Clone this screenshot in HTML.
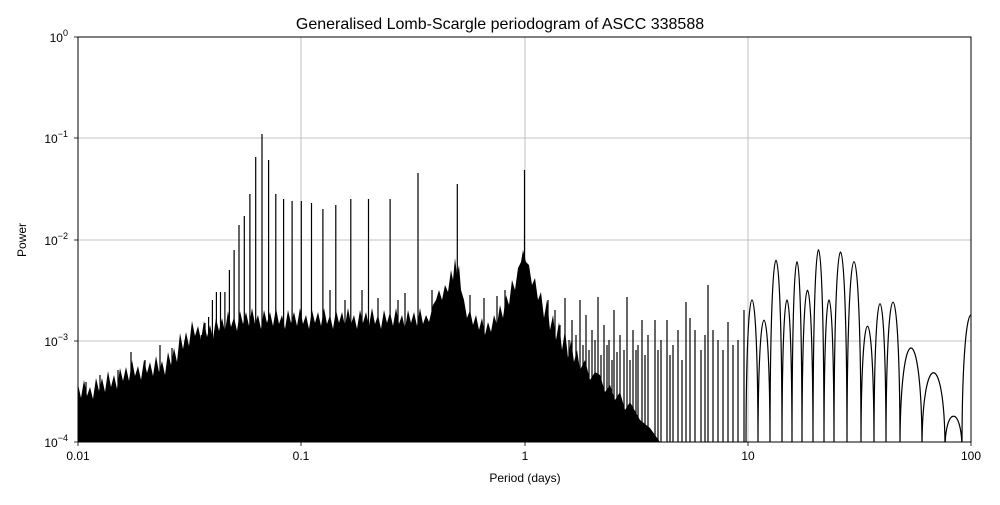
<!DOCTYPE html>
<html><head><meta charset="utf-8"><style>
body{margin:0;background:#fff;}
svg text{font-family:"Liberation Sans","DejaVu Sans",sans-serif;fill:#000;}
</style></head><body>
<svg width="1000" height="500" xmlns="http://www.w3.org/2000/svg">
<rect width="1000" height="500" fill="#fff"/>
<defs>
<clipPath id="c"><rect x="78" y="37" width="893" height="405"/></clipPath>
</defs>
<g stroke="#b0b0b0" stroke-width="0.8">
<line x1="301" y1="37" x2="301" y2="442"/><line x1="525" y1="37" x2="525" y2="442"/><line x1="748" y1="37" x2="748" y2="442"/>
<line x1="78" y1="138" x2="971" y2="138"/><line x1="78" y1="240" x2="971" y2="240"/><line x1="78" y1="341" x2="971" y2="341"/>
</g>
<g clip-path="url(#c)">
<polygon fill="#000" points="78,442 78,384 81,398 84,380 87,396 90,387 93,399 96,378 99,391 102,378 105,392 108,371 111,387 114,375 117,389 120,368 123,381 126,367 129,381 132,360 135,376 138,366 141,380 144,360 147,373 150,362 153,376 156,356 159,372 162,361 165,375 168,352 171,365 174,348 177,362 180,333 183,349 186,332 189,346 192,321 195,336 198,326 201,340 204,321 207,337 210,325 213,339 216,318 219,331 222,318 225,332 228,311 231,327 234,317 237,331 240,311 243,324 246,312 249,326 252,308 255,324 258,315 261,329 264,310 267,323 270,312 273,326 276,308 279,324 282,315 285,329 288,310 291,323 294,312 297,326 300,308 303,324 306,315 309,329 312,310 315,323 318,312 321,326 324,308 327,324 330,315 333,329 336,310 339,323 342,312 345,326 348,308 351,324 354,315 357,329 360,310 363,323 366,312 369,326 372,308 375,324 378,315 381,329 384,310 387,323 390,312 393,326 396,308 399,324 402,315 405,329 408,310 411,323 414,312 417,326 420,308 423,324 426,315 429,322 433,305 436,300 439,290 442,300 445,285 448,292 451,270 453,280 455,258 457,275 459,265 461,290 464,300 467,318 470,310 473,325 476,315 479,330 482,318 485,335 488,322 491,332 494,315 497,325 500,305 503,318 506,295 509,305 512,280 515,290 518,268 521,262 523,250 526,262 529,265 532,285 535,278 538,300 541,292 544,318 547,300 550,330 553,315 556,340 559,322 562,350 565,330 568,358 571,340 574,362 577,350 580,370 585,360 590,380 595,372 600,375 605,392 610,385 615,400 620,392 625,410 630,402 640,420 650,428 660,442"/>
<g stroke="#000" stroke-width="1.2" fill="none">
<line x1="524.5" y1="442" x2="524.5" y2="170"/>
<line x1="457.3" y1="442" x2="457.3" y2="184"/>
<line x1="418" y1="442" x2="418" y2="173"/>
<line x1="390.1" y1="442" x2="390.1" y2="199"/>
<line x1="368.5" y1="442" x2="368.5" y2="199"/>
<line x1="350.8" y1="442" x2="350.8" y2="199"/>
<line x1="335.8" y1="442" x2="335.8" y2="205"/>
<line x1="322.9" y1="442" x2="322.9" y2="209"/>
<line x1="311.5" y1="442" x2="311.5" y2="203"/>
<line x1="301.3" y1="442" x2="301.3" y2="201"/>
<line x1="292.1" y1="442" x2="292.1" y2="201"/>
<line x1="283.6" y1="442" x2="283.6" y2="199"/>
<line x1="275.8" y1="442" x2="275.8" y2="194"/>
<line x1="268.6" y1="442" x2="268.6" y2="160"/>
<line x1="262" y1="442" x2="262" y2="134"/>
<line x1="255.7" y1="442" x2="255.7" y2="157"/>
<line x1="249.9" y1="442" x2="249.9" y2="194"/>
<line x1="244.3" y1="442" x2="244.3" y2="216"/>
<line x1="239" y1="442" x2="239" y2="225"/>
<line x1="234.1" y1="442" x2="234.1" y2="250"/>
<line x1="229.4" y1="442" x2="229.4" y2="270"/>
<line x1="224.9" y1="442" x2="224.9" y2="292"/>
<line x1="220.5" y1="442" x2="220.5" y2="292"/>
<line x1="216.4" y1="442" x2="216.4" y2="292"/>
<line x1="212.4" y1="442" x2="212.4" y2="300"/>
<line x1="208.6" y1="442" x2="208.6" y2="317"/>
<line x1="205" y1="442" x2="205" y2="323"/>
<line x1="201.4" y1="442" x2="201.4" y2="335"/>
<line x1="198" y1="442" x2="198" y2="335"/>
<line x1="194.7" y1="442" x2="194.7" y2="345"/>
<line x1="185" y1="442" x2="185" y2="340"/><line x1="172" y1="442" x2="172" y2="348"/>
<line x1="160" y1="442" x2="160" y2="345"/><line x1="145" y1="442" x2="145" y2="360"/>
<line x1="131" y1="442" x2="131" y2="352"/><line x1="118" y1="442" x2="118" y2="370"/>
<line x1="100" y1="442" x2="100" y2="375"/><line x1="86" y1="442" x2="86" y2="382"/>
</g>
<g stroke="#000" stroke-width="1.2" fill="none">
<line x1="330" y1="442" x2="330" y2="290"/><line x1="345" y1="442" x2="345" y2="300"/>
<line x1="362" y1="442" x2="362" y2="290"/><line x1="378" y1="442" x2="378" y2="298"/>
<line x1="398" y1="442" x2="398" y2="300"/><line x1="405" y1="442" x2="405" y2="293"/>
<line x1="432" y1="442" x2="432" y2="290"/><line x1="445" y1="442" x2="445" y2="300"/>
<line x1="470" y1="442" x2="470" y2="295"/>
<line x1="484" y1="442" x2="484" y2="298"/><line x1="497" y1="442" x2="497" y2="296"/>
<line x1="505" y1="442" x2="505" y2="290"/>
<line x1="548" y1="442" x2="548" y2="300"/><line x1="555" y1="442" x2="555" y2="310"/>
<line x1="560" y1="442" x2="560" y2="325"/>
<line x1="565" y1="442" x2="565" y2="298"/><line x1="569" y1="442" x2="569" y2="340"/><line x1="572" y1="442" x2="572" y2="320"/>
<line x1="576" y1="442" x2="576" y2="335"/>
<line x1="580" y1="442" x2="580" y2="300"/><line x1="583" y1="442" x2="583" y2="345"/><line x1="586" y1="442" x2="586" y2="315"/>
<line x1="589" y1="442" x2="589" y2="350"/>
<line x1="592" y1="442" x2="592" y2="330"/><line x1="595" y1="442" x2="595" y2="340"/><line x1="598" y1="442" x2="598" y2="297"/>
<line x1="601" y1="442" x2="601" y2="355"/>
<line x1="604" y1="442" x2="604" y2="325"/><line x1="607" y1="442" x2="607" y2="345"/><line x1="609" y1="442" x2="609" y2="340"/>
<line x1="612" y1="442" x2="612" y2="360"/>
<line x1="614" y1="442" x2="614" y2="310"/><line x1="617" y1="442" x2="617" y2="352"/><line x1="620" y1="442" x2="620" y2="335"/>
<line x1="624" y1="442" x2="624" y2="350"/>
<line x1="627" y1="442" x2="627" y2="297"/><line x1="630" y1="442" x2="630" y2="360"/><line x1="633" y1="442" x2="633" y2="330"/>
<line x1="636" y1="442" x2="636" y2="350"/>
<line x1="638" y1="442" x2="638" y2="345"/><line x1="642" y1="442" x2="642" y2="320"/>
<line x1="645" y1="442" x2="645" y2="355"/>
<line x1="648" y1="442" x2="648" y2="335"/><line x1="655" y1="442" x2="655" y2="320"/>
<line x1="658" y1="442" x2="658" y2="350"/>
<line x1="661" y1="442" x2="661" y2="340"/><line x1="667" y1="442" x2="667" y2="320"/>
<line x1="670" y1="442" x2="670" y2="355"/>
<line x1="673" y1="442" x2="673" y2="345"/><line x1="678" y1="442" x2="678" y2="330"/>
<line x1="682" y1="442" x2="682" y2="360"/>
<line x1="686" y1="442" x2="686" y2="302"/><line x1="690" y1="442" x2="690" y2="318"/>
<line x1="695" y1="442" x2="695" y2="330"/><line x1="701" y1="442" x2="701" y2="350"/>
<line x1="705" y1="442" x2="705" y2="335"/>
<line x1="708" y1="442" x2="708" y2="285"/><line x1="713" y1="442" x2="713" y2="330"/>
<line x1="718" y1="442" x2="718" y2="340"/><line x1="723" y1="442" x2="723" y2="350"/>
<line x1="728" y1="442" x2="728" y2="322"/><line x1="733" y1="442" x2="733" y2="345"/>
<line x1="738" y1="442" x2="738" y2="340"/><line x1="744" y1="442" x2="744" y2="310"/>
</g>
<path fill="none" stroke="#000" stroke-width="1.2" d="M746 450 C746 250 758 250 758 450 C758 277 770 277 770 450 C770 197 782 197 782 450 C782 250 792 250 792 450 C792 199 802 199 802 450 C802 237 813 237 813 450 C813 183 824 183 824 450 C824 250 834 250 834 450 C834 186 847 186 847 450 C847 199 861 199 861 450 C861 285 874 285 874 450 C874 255 886 255 886 450 C886 253 900 253 900 450 C900 314 922 314 922 450 C922 347 945 347 945 450 C945 405 962 405 962 450 C962 270 980 270 980 450"/>
</g>
<rect x="78" y="37" width="893" height="405" fill="none" stroke="#000" stroke-width="1"/>
<g stroke="#000" stroke-width="0.8">
<line x1="78" y1="442" x2="78" y2="446"/><line x1="301" y1="442" x2="301" y2="446"/><line x1="525" y1="442" x2="525" y2="446"/><line x1="748" y1="442" x2="748" y2="446"/><line x1="971" y1="442" x2="971" y2="446"/>
<line x1="78" y1="37" x2="74" y2="37"/><line x1="78" y1="138" x2="74" y2="138"/><line x1="78" y1="240" x2="74" y2="240"/><line x1="78" y1="341" x2="74" y2="341"/><line x1="78" y1="442" x2="74" y2="442"/>
</g>
<text x="500" y="29" text-anchor="middle" font-size="16">Generalised Lomb-Scargle periodogram of ASCC 338588</text>
<g font-size="12" text-anchor="middle">
<text x="78" y="460">0.01</text><text x="301" y="460">0.1</text><text x="525" y="460">1</text><text x="748" y="460">10</text><text x="971" y="460">100</text>
<text x="525" y="482">Period (days)</text>
</g>
<g font-size="12" text-anchor="end">
<text x="68" y="42">10<tspan dy="-6" font-size="9">0</tspan></text>
<text x="68" y="143">10<tspan dy="-6" font-size="9">−1</tspan></text>
<text x="68" y="245">10<tspan dy="-6" font-size="9">−2</tspan></text>
<text x="68" y="346">10<tspan dy="-6" font-size="9">−3</tspan></text>
<text x="68" y="447">10<tspan dy="-6" font-size="9">−4</tspan></text>
</g>
<text transform="translate(26,240) rotate(-90)" font-size="12" text-anchor="middle">Power</text>
</svg>
</body></html>
